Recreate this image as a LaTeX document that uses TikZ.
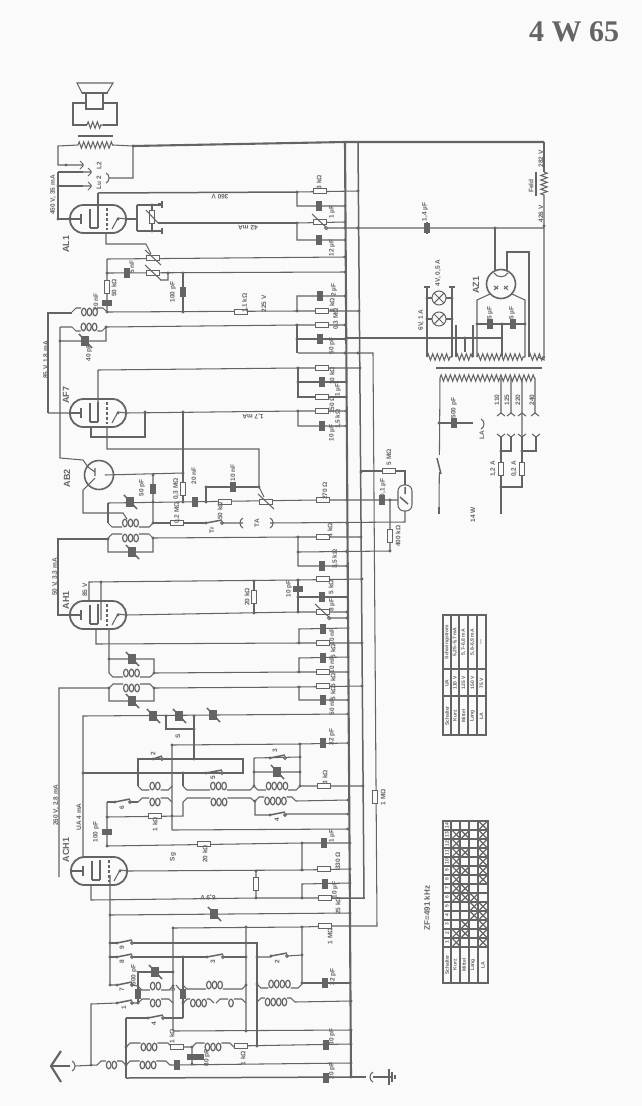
\documentclass[tikz,border=0pt]{standalone}
\usepackage{fontspec}
\setmainfont{Liberation Sans}
\newfontfamily\titlefont{Liberation Serif}
\usetikzlibrary{decorations.pathmorphing}
\definecolor{ink}{HTML}{646464}
\definecolor{paper}{HTML}{FAFAFA}
\newcounter{nd}
\tikzset{
  heavy/.style={line width=2.1pt},
  medium/.style={line width=1.5pt},
  zig/.style={decorate,decoration={zigzag,segment length=4.6pt,amplitude=3.2pt}},
  dot/.style={circle,fill=ink,inner sep=0pt,minimum size=3.4pt},
  resbox/.style={rectangle,draw=ink,fill=paper,inner sep=0pt,line width=1pt},
  capbox/.style={rectangle,fill=ink,inner sep=0pt},
  vlab/.style={rotate=90,inner sep=0pt,font=\bfseries\fontsize{6.5}{6.5}\selectfont},
  ulab/.style={rotate=180,inner sep=0pt,font=\bfseries\fontsize{6.5}{6.5}\selectfont},
  tlab/.style={rotate=90,inner sep=0pt,font=\bfseries\fontsize{5}{5}\selectfont},
  tubelab/.style={rotate=90,inner sep=0pt,font=\bfseries\fontsize{9}{9}\selectfont},
  tubebody/.style={rectangle,draw=ink,line width=1.8pt,rounded corners=13.5pt,minimum width=56pt,minimum height=28pt,inner sep=0pt},
  valve/.style={circle,draw=ink,line width=1.6pt,minimum size=29pt,inner sep=0pt},
}
% parts, all of them at picture coordinates
\newcommand{\jn}[1]{\foreach \p in {#1} {\stepcounter{nd}\node[dot] (j\arabic{nd}) at \p {};}}
\newcommand{\resh}[2]{\stepcounter{nd}\node[resbox,minimum width=13pt,minimum height=5.5pt] (r\arabic{nd}) at (#1,#2) {};}
\newcommand{\resv}[2]{\stepcounter{nd}\node[resbox,minimum width=5.5pt,minimum height=13pt] (r\arabic{nd}) at (#1,#2) {};}
\newcommand{\caph}[2]{\stepcounter{nd}\node[capbox,minimum width=5.5pt,minimum height=9.5pt] (c\arabic{nd}) at (#1,#2) {};}
\newcommand{\capv}[2]{\stepcounter{nd}\node[capbox,minimum width=9.5pt,minimum height=5.5pt] (c\arabic{nd}) at (#1,#2) {};}
\newcommand{\trim}[2]{\stepcounter{nd}\node[capbox,minimum width=7.5pt,minimum height=9.5pt] (c\arabic{nd}) at (#1,#2) {};\draw[medium] (#1-6,#2-7) -- (#1+7,#2+7);}
\newcommand{\pot}[2]{\resh{#1}{#2}\draw (#1-8,#2-8) -- (#1+8,#2+7);}
\newcommand{\swit}[3]{\jn{(#1,#3)}\draw[medium] (#1,#3) -- (#2,#3-3);\draw[fill=paper] (#2,#3) circle (1.4);}
\newcommand{\coil}[5]{% from x1 to x2 at y, bulge to side #4, #5 loops
  \pgfmathsetmacro{\coilA}{(#1+#2)/2-#5*2.8}
  \pgfmathsetmacro{\coilB}{(#1+#2)/2+#5*2.8}
  \draw (#1,#3) -- (#1+4,#3+#4*4) -- (\coilA,#3+#4*4) (\coilB,#3+#4*4) -- (#2-4,#3+#4*4) -- (#2,#3);
  \foreach \i in {1,...,#5} {\draw[line width=1.2pt] ({\coilA+(\i-0.5)*5.6},#3) ellipse [x radius=2.3,y radius=3.8];}
}
\newcommand{\fork}[2]{\draw (#1,#2-4) -- (#1+3,#2-1) -- (#1+3,#2+1) -- (#1,#2+4) (#1-5,#2) -- (#1+3,#2);}
\newcommand{\forkd}[3]{\draw (#1-4,#2-#3*3) -- (#1,#2) -- (#1+4,#2-#3*3);}
\newcommand{\sock}[3]{\draw (#1,#2-5) .. controls (#1+#3*4,#2-3) and (#1+#3*4,#2+3) .. (#1,#2+5);}
\newcommand{\vl}[3]{\stepcounter{nd}\node[vlab] (t\arabic{nd}) at (#1,#2) {#3};}
\newcommand{\ul}[3]{\stepcounter{nd}\node[ulab] (t\arabic{nd}) at (#1,#2) {#3};}
\newcommand{\tl}[3]{\stepcounter{nd}\node[tlab] (t\arabic{nd}) at (#1,#2) {#3};}
\newcommand{\innards}[2]{% valve electrodes
  \draw[medium] (#1-17,#2-5) -- (#1-17,#2+5) (#1-28,#2) -- (#1-17,#2);
  \draw (#1-8,#2-10) -- (#1-8,#2+9) (#1,#2-11) -- (#1,#2+9) (#1-8,#2+9) -- (#1,#2+9);
  \draw[densely dashed] (#1+9,#2-11) -- (#1+9,#2+11);
  \draw (#1+14,#2+10) -- (#1+20,#2-1) -- (#1+28,#2);
  \jn{(#1+20,#2)}
}
\begin{document}
\begin{tikzpicture}[x=1pt,y=-1pt,line width=1.05pt,color=ink]
  \fill[paper] (0,0) rectangle (642,1106);
  \useasboundingbox (0,0) rectangle (642,1106);
  \node[inner sep=0pt,anchor=center,font=\titlefont\bfseries\fontsize{30}{30}\selectfont] (title) at (574,32) {4 W 65};
  % rails
  \draw[heavy] (133,146) -- (345,142) -- (544,142);
  \draw[heavy] (345,142) -- (351,1077);
  \draw[medium] (358,142) -- (364,898) -- (332,898);
  \draw (298,353) -- (373,353) -- (377,926) -- (332,926);
  \node[resbox,minimum width=5.5pt,minimum height=13pt] (rGrid) at (375,797) {};
  \vl{383}{797}{1 MΩ}
  % speaker
  \draw (77,83) -- (113,83) -- (107,93) -- (82,93) -- cycle;
  \draw[heavy] (82,93) -- (108,93);
  \draw (86,93) rectangle (103,109);
  \draw (86,103) -- (73,103) -- (73,125) -- (87,125) (103,125) -- (117,125) -- (117,103) -- (103,103);
  \draw[zig] (87,125) -- (103,125);
  \draw[medium] (78,136) -- (113,136);
  \draw[zig] (78,145) -- (113,145);
  \draw (113,145) -- (133,146) -- (133,178) -- (109,178);
  \draw (78,145) -- (58,146) -- (58,165) -- (75,165);
  \draw (58,172) -- (58,219) -- (70,219);
  \draw (58,172) -- (83,172) (58,186) -- (83,186);
  \fork{80}{165}\fork{88}{172}\fork{88}{186}\sock{106}{178}{1}
  \jn{(133,146),(66,165),(58,186),(58,219)}
  \vl{53}{195}{450 V, 35 mA}\vl{99}{183}{Lu 2}\vl{99}{166}{L2}
  \node[tubelab] (lAL) at (66,244) {AL1};
  % AL1
  \node[tubebody] (AL1) at (98,219) {};
  \innards{98}{219}
  \draw[medium] (98,193) -- (297,192);
  \draw (98,193) -- (98,224);
  \draw (297,192) -- (358,191) (297,192) -- (297,206) -- (345,206);
  \draw (126,219) -- (137,219) (137,205) -- (162,205) (137,231) -- (162,231) (137,205) -- (137,231) (152,205) -- (152,231);
  \draw (158,204) -- (162,204) (162,201) -- (162,208) (162,228) -- (162,234);
  \resv{152}{217}\draw (146,210) -- (158,223);
  \draw[medium] (158,223) -- (297,223);
  \draw (297,223) -- (345,222) (326,228) -- (544,228) (297,223) -- (297,240) -- (345,240);
  \resh{320}{191}\caph{319}{206}\pot{320}{222}\caph{319}{240}
  \draw[fill=paper] (326,228) circle (1.5);
  \jn{(297,192),(358,191),(345,206),(152,205),(152,231),(345,222),(345,228),(358,228),(345,240),(297,223)}
  \vl{319}{182}{3 kΩ}\vl{332}{212}{1 µF}\vl{332}{248}{12 µF}
  \ul{220}{197}{360 V}\ul{248}{228}{42 mA}
  % volume
  \draw (106,233) -- (106,244) -- (146,244) -- (151,254);
  \draw (107,259) -- (345,257) (107,259) -- (107,312);
  \draw (107,273) -- (345,272) (168,273) -- (168,280) -- (160,280);
  \draw (183,273) -- (183,312);
  \pot{153}{258}\pot{153}{273}\caph{127}{273}\caph{183}{292}\resv{107}{287}\capv{107}{303}
  \jn{(107,273),(168,273),(183,273),(345,257),(345,272)}
  \vl{132}{267}{5 nF}\vl{114}{288}{50 kΩ}\vl{96}{302}{20 nF}\vl{173}{292}{100 pF}
  % first transformer
  \draw (107,312) -- (297,311) -- (359,311) (297,311) -- (297,296) -- (345,296);
  \draw (48,413) -- (48,313) -- (72,313);
  \coil{72}{107}{312}{-1}{3}
  \draw (60,327) -- (72,327) (60,327) -- (60,458) -- (83,460) -- (88,467);
  \coil{72}{106}{327}{1}{3}
  \draw (106,327) -- (297,325) -- (345,325) (106,327) -- (106,341) -- (60,341);
  \draw (297,325) -- (297,353) (297,339) -- (345,339);
  \resh{241}{312}\caph{320}{296}\resh{322}{311}\resh{322}{325}\caph{320}{339}\trim{85}{341}
  \jn{(107,312),(183,312),(106,327),(60,341),(297,311),(297,325),(297,339),(345,296),(359,311),(345,325),(345,339),(345,353),(358,353)}
  \vl{245}{303}{1,1 kΩ}\vl{264}{304}{225 V}\vl{334}{290}{2 µF}\vl{332}{305}{8 kΩ}\vl{336}{319}{0,3 MΩ}\vl{332}{346}{50 pF}\vl{89}{353}{40 pF}
  \vl{46}{360}{85 V, 1,8 mA}
  % AF7
  \node[tubelab] (lAF) at (66,395) {AF7};
  \node[tubebody] (AF7) at (98,413) {};
  \innards{98}{413}
  \draw (70,413) -- (48,413) (98,370) -- (98,418) (98,370) -- (298,368) -- (360,368);
  \draw (298,368) -- (298,397) -- (346,397) (298,382) -- (346,382);
  \draw (126,413) -- (298,411) -- (346,411) (298,411) -- (298,426) -- (346,426);
  \draw (145,412) -- (145,437) -- (91,437) -- (91,427);
  \draw (107,427) -- (107,449) -- (259,449) -- (259,487) -- (264,497);
  \draw (259,487) -- (206,487) -- (206,502);
  \draw (183,412) -- (183,502);
  \resh{322}{368}\caph{322}{382}\resh{322}{397}\resh{322}{411}\caph{322}{426}
  \jn{(298,368),(298,382),(145,412),(183,412),(298,411),(360,368),(346,382),(346,397),(346,411),(346,426)}
  \vl{332}{376}{10 kΩ}\vl{338}{390}{1 µF}\vl{332}{405}{150 Ω}\vl{338}{419}{1,5 kΩ}\vl{332}{433}{10 µF}
  \ul{253}{416}{1,7 mA}
  % AB2
  \node[valve] (AB2) at (99,475) {};
  \node[tubelab] (lAB) at (67,478) {AB2};
  \draw (105,475) -- (183,473) (153,475) -- (153,523);
  \draw (88,467) -- (95,472) (95,468) -- (95,476);
  \draw (95,478) -- (83,490) -- (83,513) -- (123,513) -- (127,519);
  \draw (108,503) -- (317,500) -- (347,500) -- (398,500);
  \draw (108,503) -- (108,523) (153,523) -- (206,523);
  \coil{108}{153}{523}{1}{3}
  \draw (222,523) -- (243,523) (270,523) -- (405,522) -- (405,511);
  \draw (108,539) -- (58,539) -- (58,615) -- (70,615);
  \coil{108}{153}{538}{-1}{3}
  \draw (108,539) -- (108,552) -- (153,552) -- (153,538) -- (298,537) -- (361,537);
  \draw (298,537) -- (298,566) -- (347,566) (298,552) -- (390,551) -- (390,500);
  \trim{130}{502}\caph{153}{489}\resv{183}{489}\caph{195}{502}\resh{225}{502}\caph{233}{487}\pot{266}{502}\resh{323}{500}
  \resh{177}{523}\swit{206}{222}{523}\sock{243}{523}{-1}\sock{270}{523}{1}
  \resh{323}{537}\trim{132}{552}\caph{322}{566}
  \jn{(153,475),(183,473),(153,502),(183,502),(206,502),(206,487),(259,487),(153,523),(108,539),(153,538),(298,537),(298,552),(347,500),(347,523),(361,537),(347,552),(347,566),(390,500),(390,551),(347,551),(361,472)}
  \vl{142}{488}{50 pF}\vl{176}{489}{0,3 MΩ}\vl{194}{476}{20 nF}\vl{233}{473}{10 nF}\vl{220}{511}{50 kΩ}\vl{177}{513}{0,2 MΩ}\vl{212}{530}{Tr}\vl{257}{523}{TA}\vl{325}{491}{270 Ω}\vl{330}{530}{4 kΩ}\vl{335}{559}{3,5 kΩ}
  % tuning eye
  \draw (361,471) -- (405,471) -- (405,485);
  \node[rectangle,draw=ink,rounded corners=6pt,minimum width=14pt,minimum height=26pt,inner sep=0pt] (eye) at (405,498) {};
  \draw[medium] (405,487) -- (405,494) (400,497) -- (408,504);
  \resh{389}{471}\caph{382}{500}\resv{390}{536}
  \vl{389}{457}{5 MΩ}\vl{383}{488}{0,1 µF}\vl{398}{536}{400 kΩ}
  % AH1
  \node[tubelab] (lAH) at (66,600) {AH1};\vl{55}{577}{50 V, 3,3 mA}\vl{85}{590}{85 V}
  \node[tubebody] (AH1) at (98,615) {};
  \innards{98}{615}
  \draw (89,600) -- (89,582) -- (298,580) -- (362,579) (101,582) -- (101,620);
  \draw (254,581) -- (254,613) (298,580) -- (298,612) (298,597) -- (347,597);
  \draw (126,615) -- (298,612) -- (347,612) (329,618) -- (347,618);
  \resv{254}{597}\capv{298}{589}\caph{322}{597}\resh{323}{579}\pot{323}{612}
  \draw[fill=paper] (329,618) circle (1.5);
  \jn{(101,582),(254,581),(298,580),(298,597),(254,613),(298,612),(362,579),(347,597),(347,612),(347,618)}
  \vl{247}{597}{20 kΩ}\vl{289}{589}{10 pF}\vl{332}{605}{8 µF}\vl{331}{587}{5 kΩ}
  % second transformer
  \draw (96,629) -- (96,644) -- (299,643) -- (362,643) (299,643) -- (299,629) -- (348,628);
  \draw (109,629) -- (109,673) (109,659) -- (154,659) -- (154,673) -- (299,672) -- (348,672) (299,672) -- (299,658) -- (348,657);
  \coil{109}{154}{673}{1}{3}
  \coil{109}{154}{688}{-1}{3}
  \draw (59,877) -- (59,688) -- (109,688) -- (109,701) -- (154,701) -- (154,688) -- (299,687) -- (362,686) (299,687) -- (299,700) -- (348,700);
  \trim{132}{659}\trim{132}{701}\caph{323}{629}\resh{323}{643}\caph{323}{658}\resh{323}{672}\resh{323}{686}\caph{323}{700}
  \jn{(299,643),(109,659),(154,673),(299,672),(109,688),(154,688),(299,687),(362,643),(362,686),(348,628),(348,657),(348,672),(348,700)}
  \vl{332}{637}{10 nF}\vl{333}{651}{5 kΩ}\vl{332}{665}{10 nF}\vl{333}{680}{5 kΩ}\vl{333}{693}{5 kΩ}\vl{332}{707}{50 nF}
  % band switch
  \draw (83,858) -- (83,716) -- (348,714);
  \draw (166,716) -- (166,729) -- (194,729) (194,716) -- (194,759);
  \trim{153}{716}\trim{179}{716}\trim{213}{715}
  \jn{(166,716),(194,716),(194,729),(348,714)}
  \draw (172,830) -- (172,745) -- (300,744) -- (348,743) (300,744) -- (300,786);
  \draw (138,786) -- (138,759) -- (243,759) -- (243,773) -- (83,773);
  \coil{138}{172}{786}{1}{2}
  \draw (183,773) -- (183,786);
  \coil{183}{254}{786}{1}{3}
  \coil{254}{300}{786}{1}{4}
  \draw (254,758) -- (254,786) (254,758) -- (300,757) (254,772) -- (300,772) (300,786) -- (363,786);
  \swit{153}{162}{759}\swit{206}{222}{773}\swit{270}{285}{758}\trim{277}{772}\caph{323}{743}\resh{324}{786}
  \jn{(83,773),(194,759),(183,773),(254,772),(254,786),(300,744),(300,757),(300,772),(300,786),(363,786),(348,743),(172,745)}
  \vl{178}{736}{S}\vl{153}{754}{2}\vl{275}{751}{3}\vl{213}{778}{5}\vl{332}{737}{32 pF}\vl{325}{777}{3 kΩ}
  \draw (107,802) -- (115,802) (130,802) -- (138,802);
  \coil{138}{172}{802}{-1}{2}
  \draw (107,802) -- (107,846) -- (302,843) -- (350,843) (107,817) -- (183,816) -- (183,802);
  \coil{183}{255}{802}{-1}{3}
  \coil{255}{296}{801}{-1}{4}
  \draw (296,801) -- (348,800) (255,801) -- (255,815) -- (270,815) (285,814) -- (348,814);
  \swit{115}{130}{802}\swit{270}{285}{815}\resh{155}{816}\capv{107}{832}\resh{204}{844}\caph{324}{843}
  \draw (172,830) -- (348,829);
  \jn{(107,817),(107,846),(172,816),(302,843),(255,801),(348,800),(348,814),(348,829),(350,843)}
  \vl{155}{824}{1 kΩ}\vl{277}{820}{4}\vl{122}{808}{6}\vl{96}{832}{100 pF}\vl{205}{854}{20 kΩ}\vl{332}{836}{1 µF}
  % ACH1
  \vl{56}{805}{260 V, 2,8 mA}\vl{79}{817}{UA 4 mA}
  \node[tubelab] (lACH) at (66,850) {ACH1};
  \node[tubebody] (ACH1) at (99,871) {};
  \innards{100}{871}
  \draw (127,871) -- (302,870) -- (350,869) (302,870) -- (302,843);
  \draw (91,885) -- (91,900) -- (256,898) (256,871) -- (256,898) -- (332,898) (302,898) -- (302,884) -- (350,883);
  \draw (110,875) -- (110,985) (110,915) -- (350,913);
  \resv{256}{884}\resh{324}{869}\caph{325}{884}\resh{325}{898}\trim{214}{914}
  \jn{(256,871),(302,870),(256,898),(302,898),(110,915),(350,869),(350,883),(350,913)}
  \vl{173}{857}{Sg}\ul{208}{897}{6,9 V}\vl{338}{861}{330 Ω}\vl{335}{890}{10 µF}\vl{338}{906}{25 kΩ}
  % aerial circuits
  \draw (173,1031) -- (173,928) -- (302,927) -- (332,926) (246,927) -- (246,1031) (173,1031) -- (351,1030);
  \draw (110,943) -- (117,943) (132,943) -- (257,943) -- (257,1046);
  \draw (110,957) -- (117,957) (132,957) -- (207,957) (223,957) -- (245,957);
  \draw (257,957) -- (271,957) (287,956) -- (302,955) (302,927) -- (302,983);
  \swit{117}{132}{943}\swit{117}{132}{957}\swit{207}{223}{957}\swit{271}{287}{956}\resh{325}{926}
  \draw (110,985) -- (117,985) (132,985) -- (138,986);
  \swit{117}{132}{985}
  \coil{138}{173}{986}{1}{2}
  \draw (138,986) -- (138,972) -- (173,972) (138,986) -- (138,1003) (183,957) -- (183,1018) (183,1018) -- (163,1018) (148,1018) -- (126,1018);
  \coil{183}{246}{985}{1}{3}
  \coil{257}{302}{984}{1}{4}
  \draw (302,983) -- (350,983);
  \draw (91,1065) -- (91,1004) -- (117,1003) (132,1003) -- (138,1003);
  \swit{117}{132}{1003}
  \coil{138}{173}{1003}{-1}{2}
  \coil{183}{214}{1003}{-1}{3}
  \coil{216}{246}{1003}{-1}{1}
  \coil{257}{295}{1002}{-1}{4}
  \draw (295,1002) -- (351,1001);
  \swit{148}{163}{1018}
  \trim{155}{972}\caph{138}{994}\caph{183}{994}\draw (176,985) -- (186,997);\caph{325}{983}
  \jn{(110,943),(110,957),(110,985),(183,957),(173,972),(173,986),(246,943),(246,957),(257,957),(246,985),(257,984),(302,955),(302,927),(302,983),(246,927),(173,928),(350,983),(246,1031),(351,1030),(351,1001),(183,1003),(138,1003)}
  \vl{330}{936}{1 MΩ}\vl{134}{975}{500 pF}\vl{333}{977}{32 pF}\vl{122}{948}{9}\vl{122}{962}{8}\vl{122}{990}{7}\vl{124}{1008}{1}\vl{213}{962}{3}\vl{277}{962}{2}\vl{154}{1024}{4}\vl{173}{990}{5}
  % input
  \draw[heavy] (61,1051) -- (51,1066) -- (61,1082);
  \draw (51,1066) -- (70,1066);
  \sock{72}{1066}{1}
  \draw (75,1066) -- (97,1065);
  \coil{97}{126}{1065}{-1}{2}
  \coil{126}{170}{1065}{-1}{3}
  \draw (170,1065) -- (351,1063) (192,1064) -- (192,1047);
  \coil{126}{172}{1047}{-1}{3}
  \draw (126,1018) -- (126,1078);
  \draw[medium] (126,1078) -- (351,1077);
  \coil{192}{234}{1047}{-1}{3}
  \draw (172,1047) -- (192,1047) (234,1046) -- (351,1044);
  \resh{177}{1047}\resh{241}{1046}\caph{177}{1065}\capv{192}{1057}\capv{199}{1057}\caph{326}{1045}\caph{326}{1078}
  \jn{(91,1065),(126,1065),(126,1047),(192,1047),(192,1064),(257,1046),(351,1044),(351,1063),(351,1077)}
  \vl{172}{1036}{1 kΩ}\vl{243}{1058}{1 kΩ}\vl{207}{1058}{80 pF}\vl{332}{1037}{30 pF}\vl{332}{1071}{20 pF}
  \draw (351,1077) -- (366,1077);
  \sock{373}{1077}{-1}
  \draw (373,1077) -- (391,1077) (389,1069) -- (389,1085) (392,1072) -- (392,1082) (395,1075) -- (395,1079);
  % rectifier
  \draw (427,222) -- (427,234);
  \caph{427}{228}
  \vl{425}{212}{1,4 µF}
  \jn{(495,228),(544,226),(358,228)}
  \draw (495,228) -- (495,270);
  \draw[medium] (544,142) -- (544,172);
  \draw[zig] (544,172) -- (544,196);
  \draw (544,196) -- (544,360) -- (538,357);
  \draw[heavy] (536,172) -- (536,196);
  \vl{531}{186}{Feld}\vl{541}{159}{282 V}\vl{541}{214}{426 V}
  \node[valve] (AZ1) at (501,284) {};
  \node[tubelab] (lAZ) at (476,285) {AZ1};
  \draw (507,271) -- (507,252) -- (529,252) -- (529,357);
  \draw (494,273) .. controls (497,278) and (505,278) .. (508,273);
  \draw (494,286) -- (498,289) (494,290) -- (498,286) (504,289) -- (508,286) (504,286) -- (508,290);
  \draw (490,294) -- (477,300) -- (477,357) (512,294) -- (525,300) -- (525,357);
  \draw (477,324) -- (525,324) (502,324) -- (502,356);
  \draw (347,338) -- (503,338) (465,338) -- (465,352) (456,325) -- (456,357) (473,325) -- (473,357);
  \caph{490}{324}\caph{513}{324}
  \jn{(477,324),(502,324),(525,324),(465,338),(347,338)}
  \vl{490}{313}{5 µF}\vl{512}{313}{5 µF}
  % lamps
  \draw (427,287) -- (427,357) (452,287) -- (452,357) (424,287) -- (430,287) (449,287) -- (455,287);
  \draw (427,298) -- (452,298) (427,319) -- (452,319);
  \foreach \ly in {298,319} {\draw[fill=paper] (439,\ly) circle (7);\draw (434,\ly-5) -- (444,\ly+5) (434,\ly+5) -- (444,\ly-5);}
  \jn{(427,298),(452,298),(427,319),(452,319)}
  \vl{438}{273}{4V, 0,5 A}\vl{421}{320}{6V, 1 A}
  % mains transformer
  \draw[zig] (427,357) -- (452,357);
  \draw[zig] (456,357) -- (473,357);
  \draw[zig] (477,357) -- (525,357);
  \draw[zig] (529,357) -- (545,357);
  \draw[heavy] (436,368) -- (542,368);
  \draw[zig] (440,378) -- (535,378);
  \draw (440,378) -- (439,513) (535,378) -- (535,413) (501,378) -- (501,413) (511,378) -- (511,413) (522,378) -- (522,437);
  \draw (439,423) -- (473,423);
  \forkd{501}{413}{-1}\forkd{511}{413}{-1}\forkd{522}{413}{-1}\forkd{535}{413}{-1}
  \forkd{501}{437}{1}\forkd{511}{437}{1}\forkd{522}{437}{1}\forkd{536}{437}{1}
  \draw (501,437) -- (501,513) (511,437) -- (511,451) -- (501,451) (522,437) -- (522,487) -- (501,487) (522,451) -- (536,451) -- (536,437);
  \draw[heavy] (439,507) -- (439,514) (501,507) -- (501,514);
  \node[resbox,minimum width=5.5pt,minimum height=13pt] (fA) at (501,469) {};
  \node[resbox,minimum width=5.5pt,minimum height=13pt] (fB) at (522,469) {};
  \draw[fill=paper,draw=paper] (439,456) rectangle (441,471);
  \draw[medium] (437,458) -- (441,474);
  \caph{454}{423}\sock{481}{424}{1}\draw[heavy] (467,423) -- (470,423);
  \jn{(439,423),(501,451),(522,451),(501,487)}
  \vl{454}{408}{500 pF}\vl{482}{435}{LA}\vl{497}{400}{110}\vl{507}{400}{125}\vl{518}{400}{220}\vl{532}{400}{240}
  \vl{493}{469}{1,2 A}\vl{514}{469}{0,2 A}\vl{473}{515}{14 W}
  % table of currents
  \draw (443,615) rectangle (486,735);
  \foreach \cx in {451,459,468,477} {\draw (\cx,615) -- (\cx,735);}
  \foreach \cy in {669,696} {\draw (443,\cy) -- (486,\cy);}
  \draw[medium] (486,615) -- (486,735);
  \foreach \cx/\ca/\cb/\cc in {{447/Schalter/UA/Schwingstrom},{455/Kurz/110 V/5,25--5,7 mA},{463.5/Mittel/125 V/5,7--6,8 mA},{472.5/Lang/150 V/5,8--6,9 mA},{481.5/LA/75 V/---}}
    {\tl{\cx}{716}{\ca}\tl{\cx}{683}{\cb}\tl{\cx}{642}{\cc}}
  % table of coverage
  \node[vlab,font=\bfseries\fontsize{8}{8}\selectfont] (tZF) at (427,908) {ZF=491 kHz};
  \draw (443,821) rectangle (488,983);
  \foreach \cx in {451,460,469,478} {\draw (\cx,821) -- (\cx,983);}
  \foreach \cy in {0,...,14} {\draw (443,821+\cy*9) -- (488,821+\cy*9);}
  \foreach \cn [count=\ci] in {14,13,12,11,10,9,8,7,6,5,4,3,2,1} {\tl{447}{816.5+\ci*9}{\cn}}
  \foreach \cc/\ck in {1/5,2/2,2/3,2/5,3/2,3/5,4/2,4/3,4/5,5/2,5/5,6/2,6/3,6/5,7/2,7/5,8/2,8/3,9/2,9/3,9/4,10/4,10/5,11/4,11/5,12/3,12/5,13/2,13/3,13/5,14/2,14/5}
    {\pgfmathsetmacro{\xa}{443+(\ck-1)*8.9}\pgfmathsetmacro{\ya}{821+(\cc-1)*9}
     \draw[line width=1.2pt] (\xa,\ya) -- (\xa+8.9,\ya+9) (\xa+8.9,\ya) -- (\xa,\ya+9);}
  \foreach \cx/\ca in {447/Schalter,455/Kurz,464/Mittel,473/Lang,483/LA} {\tl{\cx}{965}{\ca}}
\end{tikzpicture}
\end{document}
